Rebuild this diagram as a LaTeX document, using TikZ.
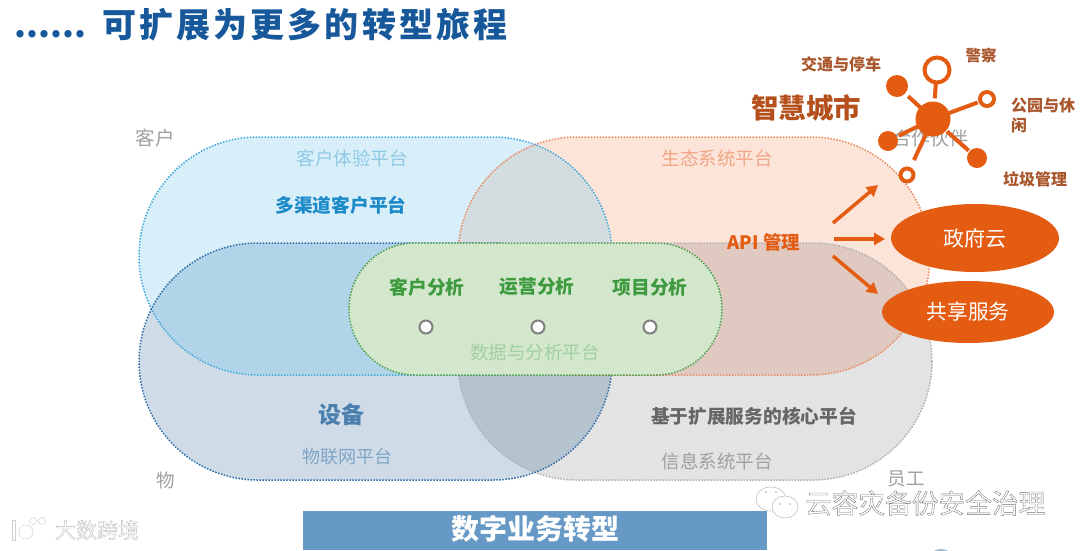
\documentclass[tikz,border=0pt]{standalone}
\usepackage{fontspec}
\usetikzlibrary{arrows.meta,shapes.geometric}
\setmainfont{Noto Sans CJK SC}
\newcommand{\fs}[1]{\fontsize{#1}{#1}\selectfont}
\newcommand{\hollow}[2]{\special{pdf:code q 2 Tr 0.35 w #1 #1 #1 RG 1 1 1 rg}#2\special{pdf:code Q}}
\definecolor{oran}{HTML}{E35C12}
\definecolor{brn}{HTML}{A9562C}
\definecolor{gry}{HTML}{A0A0A0}
\definecolor{grn}{HTML}{3E9A3E}
\tikzset{x=1pt,y=-1pt,
  lab/.style={inner sep=0pt,outer sep=0pt,align=left},
  hubdot/.style={circle,fill=oran,inner sep=0pt,minimum size=#1},
  ringdot/.style={circle,draw=oran,line width=4pt,fill=white,inner sep=0pt,minimum size=#1},
  spoke/.style={draw=oran,line width=4pt},
  flow/.style={draw=oran,line width=3.5pt,-{Triangle[length=11pt,width=12pt]}},
  oval/.style={ellipse,fill=oran,text=white,inner sep=0pt,minimum width=#1},
  pivot/.style={circle,draw=black!50,line width=2pt,fill=white,inner sep=0pt,minimum size=13pt},
  zone/.style={rounded corners=118.9pt},
  edgedots/.style={dash pattern=on 1.5pt off 1.5pt,line width=1.5pt},
  wmicon/.style={draw=black!28,fill=white,line width=.5pt},
}
\newcommand{\pA}{(139,137) rectangle (612,375)}
\newcommand{\pB}{(458,137) rectangle (930,375)}
\newcommand{\pC}{(139,243) rectangle (612,480)}
\newcommand{\pD}{(458,243) rectangle (932,480)}
\begin{document}
\begin{tikzpicture}
\useasboundingbox (0,0) rectangle (1080,550);
\fill[white] (0,0) rectangle (1080,550);
% base zones
\fill[zone,color={rgb,255:red,216;green,239;blue,250}] \pA;
\fill[zone,color={rgb,255:red,252;green,228;blue,217}] \pB;
\fill[zone,color={rgb,255:red,207;green,220;blue,232}] \pC;
\fill[zone,color={rgb,255:red,227;green,227;blue,227}] \pD;
% overlaps
\begin{scope}\clip[zone] \pA; \fill[zone,color={rgb,255:red,211;green,221;blue,224}] \pB; \fill[zone,color={rgb,255:red,178;green,212;blue,232}] \pC;\end{scope}
\begin{scope}\clip[zone] \pD; \fill[zone,color={rgb,255:red,223;green,201;blue,193}] \pB; \fill[zone,color={rgb,255:red,181;green,195;blue,206}] \pC;\end{scope}
% outlines
\draw[zone,edgedots,color={rgb,255:red,176;green,176;blue,176}] \pD;
\draw[zone,edgedots,color={rgb,255:red,233;green,138;blue,95}] \pB;
\draw[zone,edgedots,color={rgb,255:red,63;green,169;blue,220}] \pA;
\draw[zone,edgedots,color={rgb,255:red,46;green,108;blue,168}] \pC;
% analytics platform
\draw[rounded corners=65.9pt,edgedots,draw={rgb,255:red,78;green,160;blue,78},fill={rgb,255:red,210;green,231;blue,204}] (349,243) rectangle (722,375);
% title
\node[lab,anchor=west,text={rgb,255:red,23;green,88;blue,155}] (title) at (15,25) {\fs{34}\bfseries ......\hspace{16pt}\addfontfeature{LetterSpace=9}可扩展为更多的转型旅程};
% corner labels
\node[lab,text=gry] (kehu) at (155,138) {\fs{19.5}客户};
\node[lab,text=gry] (wu) at (166,480) {\fs{18.5}物};
\node[lab,text=gry] (yuangong) at (906,479) {\fs{18.5}员工};
\node[lab,text=gry] (huoban) at (930,138) {\fs{19}合作伙伴};
% platform labels
\node[lab,text={rgb,255:red,143;green,201;blue,229}] (t1) at (352,158) {\fs{18.5}客户体验平台};
\node[lab,text={rgb,255:red,28;green,138;blue,200}] (t2) at (341,205) {\fs{18.7}\bfseries 多渠道客户平台};
\node[lab,text={rgb,255:red,240;green,166;blue,133}] (t3) at (717,158) {\fs{18.5}生态系统平台};
\node[lab,text=oran] (api) at (764,242) {\fs{18.5}\bfseries API 管理};
\node[lab,text=grn] (a1) at (427,287) {\fs{18.7}\bfseries 客户分析};
\node[lab,text=grn] (a2) at (537,287) {\fs{18.7}\bfseries 运营分析};
\node[lab,text=grn] (a3) at (650,287) {\fs{18.7}\bfseries 项目分析};
\node[pivot] (d1) at (426,327) {};
\node[pivot] (d2) at (538,327) {};
\node[pivot] (d3) at (650,327) {};
\node[lab,text={rgb,255:red,163;green,208;blue,160}] (t4) at (535,352) {\fs{18.5}数据与分析平台};
\node[lab,text={rgb,255:red,74;green,127;blue,174}] (shebei) at (341,415) {\fs{23}\bfseries 设备};
\node[lab,text={rgb,255:red,127;green,165;blue,197}] (t5) at (347,457) {\fs{18}物联网平台};
\node[lab,text=black!60] (t6) at (754,416) {\fs{18.7}\bfseries 基于扩展服务的核心平台};
\node[lab,text=gry] (t7) at (717,461) {\fs{18.5}信息系统平台};
% smart city
\node[lab,text={rgb,255:red,181;green,80;blue,28}] (city) at (806,108) {\fs{27.5}\bfseries 智慧城市};
\node[hubdot=35pt] (hub) at (933,119) {};
\node[ringdot=25pt] (s1) at (937,70) {};
\node[hubdot=22pt] (s2) at (897,86) {};
\node[ringdot=14pt] (s3) at (987,99) {};
\node[hubdot=20pt] (s4) at (888,141) {};
\node[hubdot=20pt] (s5) at (977,158) {};
\node[ringdot=13pt] (s6) at (907,175) {};
\draw[spoke,shorten <=-1pt,shorten >=3pt] (s1) -- (hub);
\draw[spoke,shorten <=4pt,shorten >=-1pt] (s2) -- (hub);
\draw[spoke,shorten <=1pt,shorten >=-1pt] (s3) -- (hub);
\draw[spoke,shorten <=2pt,shorten >=-2pt] (s4) -- (hub);
\draw[spoke,shorten <=1pt,shorten >=1pt] (s5) -- (hub);
\draw[spoke,shorten <=8pt,shorten >=-1pt] (s6) -- (hub);
\node[lab,text=brn] (n1) at (841,64) {\fs{16}\bfseries 交通与停车};
\node[lab,text=brn] (n2) at (981,56) {\fs{15.5}\bfseries 警察};
\node[lab,text=brn,anchor=north west,text width=66pt] (n3) at (1011,98) {\fontsize{16}{20}\selectfont\bfseries 公园与休\\闲\par};
\node[lab,text=brn] (n4) at (1035,179) {\fs{16}\bfseries 垃圾管理};
% outcomes
\node[oval=168pt,minimum height=68pt] (gov) at (975,238) {\fs{21}政府云};
\node[oval=172pt,minimum height=62pt] (share) at (968,312) {\fs{20.7}共享服务};
\coordinate (f1a) at (833,223); \coordinate (f1b) at (878,185);
\coordinate (f2a) at (834,239); \coordinate (f2b) at (885,239);
\coordinate (f3a) at (833,256); \coordinate (f3b) at (878,294);
\draw[flow] (f1a) -- (f1b);
\draw[flow] (f2a) -- (f2b);
\draw[flow] (f3a) -- (f3b);
% bottom bar
\node[rectangle,fill={rgb,255:red,102;green,153;blue,197},minimum width=464pt,minimum height=39pt,inner sep=0pt,anchor=north west] (bar) at (303,511) {};
\node[lab,text=white] (bart) at (535,529) {\fs{28}\bfseries 数字业务转型};
\fill[color={rgb,255:red,170;green,190;blue,205}] (941,553) ellipse (8 and 4);
% watermarks
\path[wmicon] (771,499) ellipse (15 and 12);
\path[wmicon] (785,507) ellipse (13 and 11);
\fill[black!35] (766,492) circle (.9) (776,492) circle (.9) (780,504) circle (.9) (790,504) circle (.9);
\node[lab,anchor=west] (wm) at (805,503) {\fs{26.7}\hollow{0.45}{云容灾备份安全治理}};
\begin{scope}[draw=black!18,fill=white,line width=.5pt]
\path[draw,fill] (12,520) rectangle (15.5,540);
\path[draw,fill] (26,532) circle (7);
\path[draw,fill] (33,521) circle (3.5);
\path[draw,fill] (42,521) circle (3.5);
\end{scope}
\node[lab,anchor=west] (wm2) at (55,530) {\fs{21}\hollow{0.72}{大数跨境}};
\end{tikzpicture}
\end{document}
